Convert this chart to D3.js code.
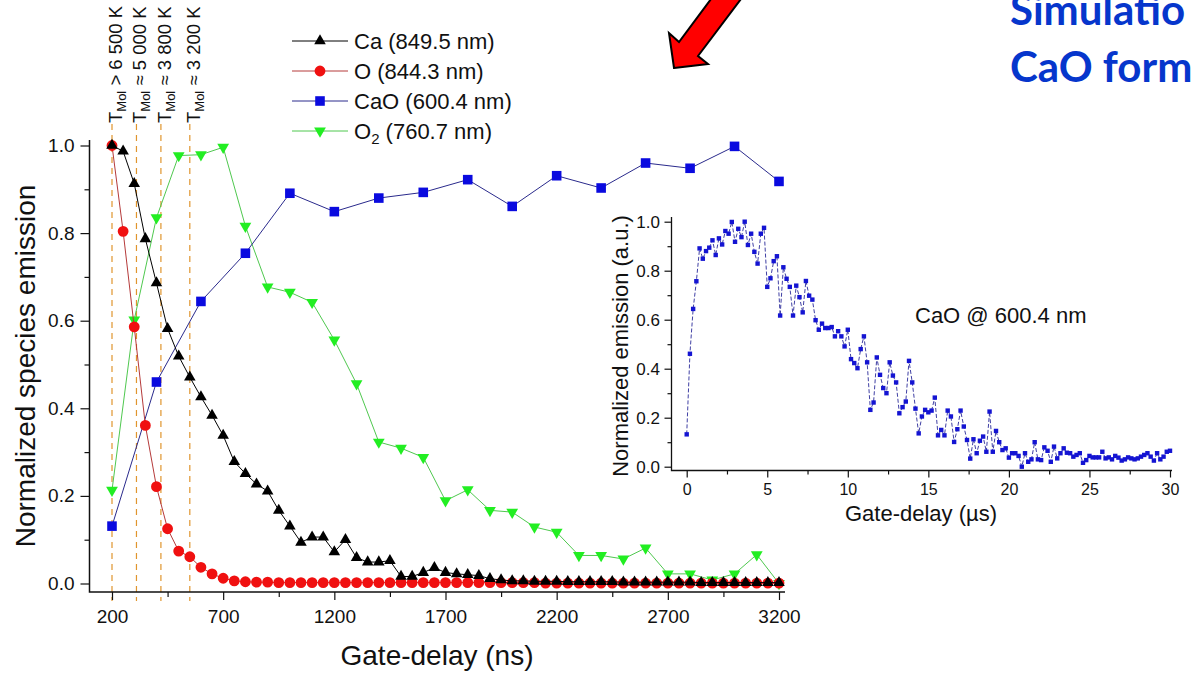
<!DOCTYPE html>
<html>
<head>
<meta charset="utf-8">
<script src="https://cdn.jsdelivr.net/npm/d3@7"></script>
<style>
  body { margin: 0; background: #fff; }
  svg { display: block; font-family: "Liberation Sans", Arial, sans-serif; overflow: hidden; }
</style>
</head>
<body>
<svg id="chart" width="1191" height="679"></svg>
<script>
// ---- main chart data (gate-delay in ns, normalized emission) ----
const delay50 = d3.range(200, 3201, 50);   // Ca and O sampled every 50 ns
const delay100 = d3.range(200, 3201, 100); // O2 every 100 ns
const delay200 = d3.range(200, 3201, 200); // CaO every 200 ns

const caValues = [1.0, 0.987, 0.913, 0.787, 0.686, 0.582, 0.519, 0.471, 0.426, 0.384,
  0.338, 0.278, 0.251, 0.227, 0.211, 0.167, 0.131, 0.094, 0.106, 0.106,
  0.072, 0.100, 0.059, 0.049, 0.049, 0.052, 0.016, 0.016, 0.025, 0.036,
  0.025, 0.022, 0.020, 0.018, 0.011, 0.008, 0.006, 0.006, 0.005, 0.005,
  0.005, 0.004, 0.004, 0.004, 0.004, 0.004, 0.003, 0.003, 0.003, 0.003,
  0.003, 0.003, 0.003, 0.002, 0.002, 0.002, 0.002, 0.002, 0.002, 0.002, 0.002];

const oValues = [1.0, 0.804, 0.586, 0.361, 0.221, 0.125, 0.074, 0.061, 0.037, 0.022,
  0.012, 0.006, 0.004, 0.003, 0.003, 0.002, 0.002, 0.002, 0.002, 0.002,
  0.002, 0.002, 0.002, 0.002, 0.002, 0.002, 0.002, 0.002, 0.002, 0.002,
  0.002, 0.002, 0.002, 0.002, 0.002, 0.002, 0.002, 0.002, 0.002, 0.001,
  0.001, 0.001, 0.001, 0.001, 0.001, 0.001, 0.001, 0.001, 0.001, 0.001,
  0.001, 0.001, 0.001, 0.001, 0.001, 0.001, 0.001, 0.001, 0.001, 0.001, 0.001];

const caoValues = [0.131, 0.460, 0.644, 0.754, 0.891, 0.849, 0.880, 0.893,
  0.922, 0.861, 0.931, 0.903, 0.960, 0.948, 0.998, 0.918];

const o2Values = [0.213, 0.602, 0.835, 0.977, 0.979, 0.996, 0.816, 0.677, 0.665, 0.642,
  0.556, 0.456, 0.323, 0.309, 0.288, 0.189, 0.214, 0.167, 0.163, 0.129,
  0.117, 0.064, 0.064, 0.056, 0.081, 0.022, 0.022, 0.008, 0.022, 0.066, 0.0];

const xMajorTicks = [200, 700, 1200, 1700, 2200, 2700, 3200];
const xMinorTicks = [450, 950, 1450, 1950, 2450, 2950];
const yMajorTicks = [0, 0.2, 0.4, 0.6, 0.8, 1.0];
const yMinorTicks = [0.1, 0.3, 0.5, 0.7, 0.9];

// temperature markers (ns)
const tempDelays = [200, 310, 420, 550];
const tempLabels = [" > 6 500 K", " \u2248 5 000 K", " \u2248 3 800 K", " \u2248 3 200 K"];

// ---- inset data (gate-delay in µs, CaO @ 600.4 nm) ----
const insetValues = [0.132, 0.461, 0.644, 0.757, 0.891, 0.849, 0.880, 0.894, 0.924, 0.864,
  0.932, 0.907, 0.962, 0.951, 0.999, 0.918, 0.971, 0.937, 1.000, 0.905,
  0.951, 0.877, 0.829, 0.951, 0.975, 0.734, 0.769, 0.839, 0.859, 0.617,
  0.814, 0.767, 0.734, 0.617, 0.739, 0.692, 0.630, 0.758, 0.698, 0.682,
  0.598, 0.559, 0.584, 0.566, 0.566, 0.570, 0.532, 0.553, 0.532, 0.491,
  0.559, 0.439, 0.423, 0.402, 0.480, 0.532, 0.426, 0.232, 0.262, 0.446,
  0.375, 0.321, 0.300, 0.426, 0.372, 0.344, 0.218, 0.243, 0.266, 0.432,
  0.344, 0.237, 0.136, 0.205, 0.232, 0.222, 0.229, 0.282, 0.128, 0.150,
  0.128, 0.229, 0.205, 0.101, 0.153, 0.229, 0.164, 0.109, 0.033, 0.112,
  0.055, 0.106, 0.123, 0.061, 0.225, 0.061, 0.146, 0.100, 0.068, 0.075,
  0.037, 0.055, 0.055, 0.044, 0.000, 0.055, 0.020, 0.030, 0.100, 0.030,
  0.027, 0.079, 0.065, 0.020, 0.082, 0.034, 0.055, 0.075, 0.057, 0.055,
  0.041, 0.048, 0.055, 0.016, 0.027, 0.044, 0.038, 0.038, 0.038, 0.061,
  0.034, 0.038, 0.030, 0.044, 0.037, 0.025, 0.030, 0.038, 0.034, 0.030,
  0.034, 0.041, 0.048, 0.055, 0.041, 0.025, 0.055, 0.030, 0.041, 0.061, 0.065];
const insetTimes = insetValues.map((v, i) => i * 0.2);
const insetXTicks = [0, 5, 10, 15, 20, 25, 30];
const insetXMinor = [2.5, 7.5, 12.5, 17.5, 22.5, 27.5];
const insetYTicks = [0, 0.2, 0.4, 0.6, 0.8, 1.0];
const insetYMinor = [0.1, 0.3, 0.5, 0.7, 0.9];

const svg = d3.select("#chart");
const font = "'Liberation Sans', Arial, sans-serif";

// ---- scales ----
const x = d3.scaleLinear().domain([200, 3200]).range([112, 779]);
const y = d3.scaleLinear().domain([0, 1]).range([583.5, 145.5]);

// temperature dashed lines + labels
tempDelays.forEach((d, i) => {
  svg.append("line")
    .attr("x1", x(d)).attr("x2", x(d))
    .attr("y1", 124).attr("y2", 601)
    .attr("stroke", "#e0952e")
    .attr("stroke-width", 1.2)
    .attr("stroke-dasharray", "6,5");

  const t = svg.append("text")
    .attr("transform", `translate(${x(d) + 10},123) rotate(-90)`)
    .attr("font-size", 18.5)
    .attr("fill", "#111");
  t.append("tspan").text("T");
  t.append("tspan").attr("font-size", 13).attr("dy", 4).text("Mol");
  t.append("tspan").attr("dy", -4).text(tempLabels[i]);
});

// ---- axes (main) ----
function styleAxis(g, size) {
  g.select(".domain").remove();
  g.selectAll("text").attr("font-size", size).attr("font-family", font).attr("fill", "#111");
  g.selectAll("line").attr("stroke", "#111").attr("stroke-width", 1.2);
}

svg.append("g")
  .attr("transform", "translate(89.5,0)")
  .call(d3.axisLeft(y).tickValues(yMajorTicks).tickSize(9).tickPadding(6).tickFormat(d3.format(".1f")))
  .call(g => styleAxis(g, 19));
svg.append("g")
  .attr("transform", "translate(89.5,0)")
  .call(d3.axisLeft(y).tickValues(yMinorTicks).tickSize(5).tickFormat(""))
  .call(g => styleAxis(g, 19));

svg.append("g")
  .attr("transform", "translate(0,592)")
  .call(d3.axisBottom(x).tickValues(xMajorTicks).tickSize(8).tickPadding(10).tickFormat(d3.format("d")))
  .call(g => styleAxis(g, 19));
svg.append("g")
  .attr("transform", "translate(0,592)")
  .call(d3.axisBottom(x).tickValues(xMinorTicks).tickSize(5).tickFormat(""))
  .call(g => styleAxis(g, 19));

svg.append("path")
  .attr("d", "M89.5,140 V592 H785")
  .attr("fill", "none").attr("stroke", "#111").attr("stroke-width", 1.5);

svg.append("text")
  .attr("transform", "translate(35,366) rotate(-90)")
  .attr("text-anchor", "middle")
  .attr("font-size", 28)
  .attr("fill", "#111")
  .text("Normalized species emission");

svg.append("text")
  .attr("x", 437).attr("y", 665)
  .attr("text-anchor", "middle")
  .attr("font-size", 28)
  .attr("fill", "#111")
  .text("Gate-delay (ns)");

// ---- series ----
const series = [
  { name: "O2", xs: delay100, ys: o2Values, line: "#4fc84f", fill: "#22ee22", shape: "down", size: 60 },
  { name: "CaO", xs: delay200, ys: caoValues, line: "#2a2a8c", fill: "#0a0adf", shape: "square", size: 92 },
  { name: "O", xs: delay50, ys: oValues, line: "#b53a3a", fill: "#f01010", shape: "circle", size: 92 },
  { name: "Ca", xs: delay50, ys: caValues, line: "#000000", fill: "#000000", shape: "up", size: 58 }
];

function symbolPath(shape, size) {
  const type = shape === "square" ? d3.symbolSquare
    : shape === "circle" ? d3.symbolCircle : d3.symbolTriangle;
  return d3.symbol().type(type).size(size)();
}

const line = d3.line();
series.forEach(s => {
  const pts = s.xs.map((d, i) => [x(d), y(s.ys[i])]);
  svg.append("path")
    .attr("d", line(pts))
    .attr("fill", "none")
    .attr("stroke", s.line)
    .attr("stroke-width", 1);
  svg.append("g").selectAll("path")
    .data(pts)
    .join("path")
    .attr("d", symbolPath(s.shape, s.size))
    .attr("transform", p => `translate(${p[0]},${p[1]})` + (s.shape === "down" ? " rotate(180)" : ""))
    .attr("fill", s.fill);
});

// ---- legend ----
const legendRows = [
  { label: "Ca (849.5 nm)", s: series[3] },
  { label: "O (844.3 nm)", s: series[2] },
  { label: "CaO (600.4 nm)", s: series[1] },
  { label: "O2", s: series[0] }
];
legendRows.forEach((r, i) => {
  const ly = 41 + i * 30;
  svg.append("line")
    .attr("x1", 292).attr("x2", 348).attr("y1", ly).attr("y2", ly)
    .attr("stroke", r.s.line).attr("stroke-width", 1);
  svg.append("path")
    .attr("d", symbolPath(r.s.shape, r.s.size))
    .attr("transform", `translate(320,${ly})` + (r.s.shape === "down" ? " rotate(180)" : ""))
    .attr("fill", r.s.fill);
  const t = svg.append("text")
    .attr("x", 354).attr("y", ly + 8)
    .attr("font-size", 22)
    .attr("fill", "#111");
  if (r.label === "O2") {
    t.append("tspan").text("O");
    t.append("tspan").attr("font-size", 15).attr("dy", 5).text("2");
    t.append("tspan").attr("dy", -5).text(" (760.7 nm)");
  } else {
    t.text(r.label);
  }
});

// ---- inset ----
const xi = d3.scaleLinear().domain([0, 30]).range([686.7, 1170]);
const yi = d3.scaleLinear().domain([0, 1]).range([466.7, 221.7]);

svg.append("g")
  .attr("transform", "translate(671.5,0)")
  .call(d3.axisLeft(yi).tickValues(insetYTicks).tickSize(7).tickPadding(4.5).tickFormat(d3.format(".1f")))
  .call(g => styleAxis(g, 17));
svg.append("g")
  .attr("transform", "translate(671.5,0)")
  .call(d3.axisLeft(yi).tickValues(insetYMinor).tickSize(4).tickFormat(""))
  .call(g => styleAxis(g, 17));
svg.append("g")
  .attr("transform", "translate(0,470.5)")
  .call(d3.axisBottom(xi).tickValues(insetXTicks).tickSize(7).tickPadding(6.5).tickFormat(d3.format("d")))
  .call(g => styleAxis(g, 16));
svg.append("g")
  .attr("transform", "translate(0,470.5)")
  .call(d3.axisBottom(xi).tickValues(insetXMinor).tickSize(4).tickFormat(""))
  .call(g => styleAxis(g, 16));
svg.append("path")
  .attr("d", "M671.5,217 V470.5 H1172")
  .attr("fill", "none").attr("stroke", "#111").attr("stroke-width", 1.3);

const insetPts = insetTimes.map((t, i) => [xi(t), yi(insetValues[i])]);
svg.append("path")
  .attr("d", line(insetPts))
  .attr("fill", "none")
  .attr("stroke", "#2a2a9a")
  .attr("stroke-width", 0.9)
  .attr("stroke-dasharray", "4,2");
svg.append("g").selectAll("rect")
  .data(insetPts)
  .join("rect")
  .attr("x", p => p[0] - 2.2).attr("y", p => p[1] - 2.2)
  .attr("width", 4.4).attr("height", 4.4)
  .attr("fill", "#1414d2");

svg.append("text")
  .attr("transform", "translate(628,346) rotate(-90)")
  .attr("text-anchor", "middle")
  .attr("font-size", 22)
  .attr("fill", "#111")
  .text("Normalized emission (a.u.)");
svg.append("text")
  .attr("x", 921).attr("y", 521)
  .attr("text-anchor", "middle")
  .attr("font-size", 22)
  .attr("fill", "#111")
  .text("Gate-delay (\u00b5s)");
svg.append("text")
  .attr("x", 915).attr("y", 323)
  .attr("font-size", 22)
  .attr("fill", "#111")
  .text("CaO @ 600.4 nm");

// ---- annotation: red arrow and title ----
svg.append("polygon")
  .attr("points", "674,68 708,64 698,56 744,-5 714,-5 679,42 669,33")
  .attr("fill", "#ff0000")
  .attr("stroke", "#000")
  .attr("stroke-width", 2)
  .attr("stroke-linejoin", "miter");

// title is cut by the right edge of the reference image
const title = svg.append("text")
  .attr("font-family", "Lato, 'Open Sans', sans-serif")
  .attr("font-weight", 700)
  .attr("font-size", 42)
  .attr("fill", "#0636cc");
title.append("tspan").attr("x", 1010).attr("y", 25).text("Simulatio");
title.append("tspan").attr("x", 1010).attr("y", 82).text("CaO form");
</script>
</body>
</html>
